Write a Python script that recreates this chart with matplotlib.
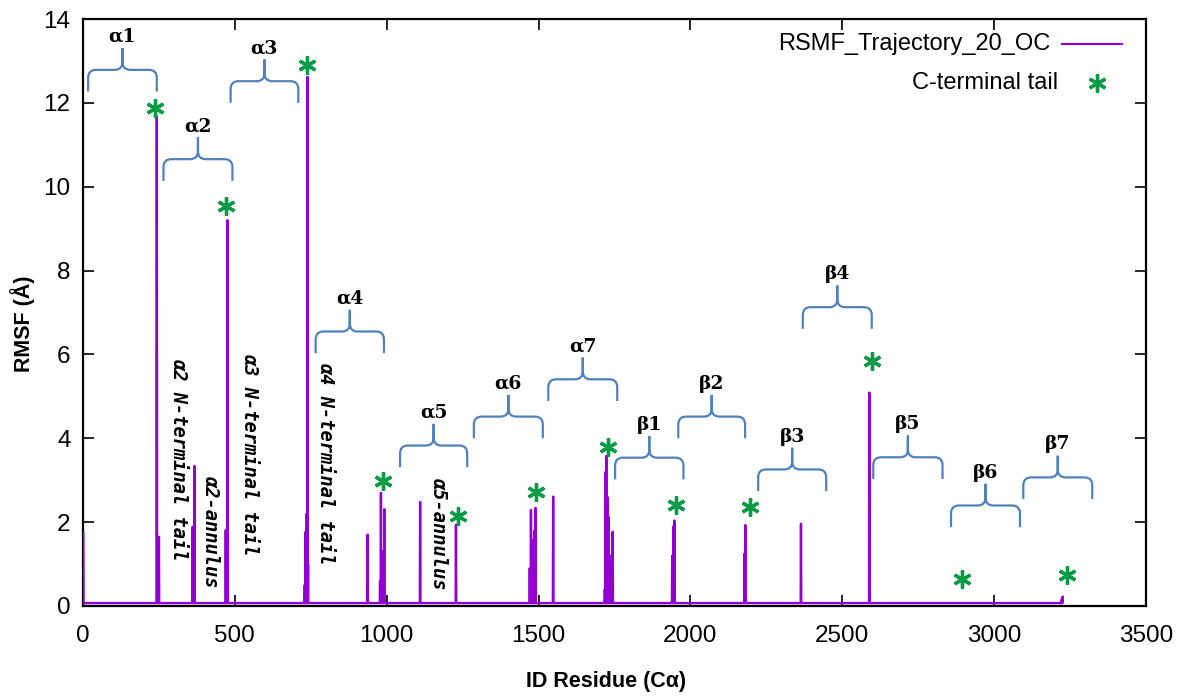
import numpy as np
import matplotlib
matplotlib.use("Agg")
import matplotlib.pyplot as plt
from matplotlib.path import Path
from matplotlib.patches import PathPatch

# ---------------- data ----------------
n_residues = 3226
baseline_rmsf = 0.07

# residues that rise above the baseline and their RMSF (Å)
peak_residue = [1, 243, 250, 361, 367, 470, 476, 730, 733, 736, 739, 741,
                937, 978, 981, 984, 988, 992, 1110, 1228,
                1471, 1475, 1478, 1483, 1487, 1490, 1548,
                1718, 1721, 1723, 1727, 1730, 1735, 1744,
                1940, 1944, 1947, 2178, 2181, 2364, 2589,
                3222, 3224, 3226]
peak_rmsf = [1.75, 11.67, 1.65, 1.89, 3.34, 1.81, 9.20, 0.50, 1.77, 2.20, 12.62, 1.00,
             1.70, 0.60, 2.70, 1.30, 1.30, 2.31, 2.48, 1.94,
             0.90, 2.29, 1.57, 1.30, 1.80, 2.34, 2.61,
             0.40, 3.20, 3.58, 2.60, 2.13, 1.20, 1.77,
             1.20, 1.90, 2.04, 1.25, 1.93, 1.96, 5.09,
             0.15, 0.20, 0.22]

# C-terminal tail markers
cterm_residue = [237, 471, 736, 989, 1234, 1490, 1727, 1953, 2195, 2598, 2894, 3239]
cterm_rmsf = [11.88, 9.53, 12.90, 2.97, 2.15, 2.73, 3.80, 2.41, 2.37, 5.85, 0.64, 0.74]

# secondary-structure braces: label, first residue, last residue, level (Å)
brace_labels = ["α1", "α2", "α3", "α4", "α5", "α6", "α7",
                "β1", "β2", "β3", "β4", "β5", "β6", "β7"]
brace_start = [17, 265, 486, 766, 1044, 1287, 1532,
               1752, 1960, 2223, 2370, 2602, 2858, 3096]
brace_end = [243, 492, 709, 991, 1265, 1514, 1759,
             1977, 2180, 2447, 2597, 2830, 3085, 3323]
brace_level = [12.27, 10.14, 12.00, 6.03, 3.31, 4.00, 4.89,
               3.02, 4.00, 2.74, 6.61, 3.03, 1.88, 2.55]

# vertical region notes: text, residue, top (Å)
note_texts = ["α2 N-terminal tail", "α2-annulus", "α3 N-terminal tail",
              "α4 N-terminal tail", "α5-annulus"]
note_residue = [316, 421, 547, 797, 1169]
note_top = [5.91, 3.12, 6.03, 5.82, 3.08]

x_ticks = [0, 500, 1000, 1500, 2000, 2500, 3000, 3500]
y_ticks = [0, 2, 4, 6, 8, 10, 12, 14]

# ---------------- build series ----------------
residue = np.arange(1, n_residues + 1)
rmsf = np.full(n_residues, baseline_rmsf)
rmsf[np.array(peak_residue) - 1] = peak_rmsf

# ---------------- style ----------------
line_color = "#9400d3"
star_color = "#0a9b47"
brace_color = "#4f81bd"
tick_font = ["Liberation Sans", "DejaVu Sans"]
star_style = dict(ls="none", marker=(6, 2, 0), ms=13, mew=2.4, color=star_color)

fig = plt.figure(figsize=(11.81, 6.96), dpi=100)
ax = fig.add_axes([83 / 1181, 1 - 606 / 696, 1063 / 1181, 587 / 696])

ax.plot(residue, rmsf, color=line_color, lw=1.7, zorder=3)
ax.plot(cterm_residue, cterm_rmsf, zorder=4, **star_style)

ax.set_xlim(0, 3500)
ax.set_ylim(0, 14)
ax.set_xticks(x_ticks)
ax.set_yticks(y_ticks)
ax.tick_params(direction="in", length=8, width=1.2, top=True, right=True)
ax.tick_params(axis="x", pad=14)
ax.tick_params(axis="y", pad=9)
for lab in ax.get_xticklabels() + ax.get_yticklabels():
    lab.set_family(tick_font)
    lab.set_fontsize(17.5)
for sp in ax.spines.values():
    sp.set_linewidth(1.6)

ax.set_xlabel("ID Residue (Cα)", fontsize=15.5, fontweight="bold",
              family=["Liberation Sans", "DejaVu Sans"])
ax.xaxis.set_label_coords(0.4916, -0.111)
ax.set_ylabel("RMSF (Å)", fontsize=15.5, fontweight="bold",
              family=["Liberation Sans", "DejaVu Sans"])
ax.yaxis.set_label_coords(-0.045, 0.48)

# ---------------- braces ----------------
arm = 0.517     # height of the brace ends (Å)
stem = 0.517    # height of the centre stem (Å)
rx = 26         # corner radius along x (residues)
ry = 0.19       # corner radius along y (Å)


def brace_path(x0, x1, yb):
    xm = 0.5 * (x0 + x1)
    yt = yb + arm
    verts, codes = [], []
    for xe, sgn in ((x0, 1), (x1, -1)):
        verts += [(xe, yb), (xe, yt - ry), (xe, yt), (xe + sgn * rx, yt),
                  (xm - sgn * rx, yt), (xm, yt), (xm, yt + ry), (xm, yt + stem)]
        codes += [Path.MOVETO, Path.LINETO, Path.CURVE3, Path.CURVE3,
                  Path.LINETO, Path.CURVE3, Path.CURVE3, Path.LINETO]
    return Path(verts, codes), xm, yt + stem


for lab, x0, x1, yb in zip(brace_labels, brace_start, brace_end, brace_level):
    p, xm, ytop = brace_path(x0, x1, yb)
    ax.add_patch(PathPatch(p, fill=False, edgecolor=brace_color, lw=1.6,
                           capstyle="butt", joinstyle="round", zorder=5))
    ax.annotate(lab, xy=(xm, ytop), xytext=(0, 4.5), textcoords="offset points",
                ha="center", va="baseline", fontsize=13.5, fontweight="bold",
                family=["DejaVu Serif"], zorder=6)

# ---------------- vertical notes ----------------
for t, x, yt in zip(note_texts, note_residue, note_top):
    ax.text(x, yt, t, rotation=-90, ha="center", va="top", fontsize=13.5,
            family=["DejaVu Sans Mono"], style="oblique", fontweight="bold",
            zorder=6)

# ---------------- key ----------------
key_font = ["Liberation Sans", "DejaVu Sans"]
ax.text(0.9097, 0.9574, "RSMF_Trajectory_20_OC", transform=ax.transAxes,
        ha="right", va="center", fontsize=17, family=key_font)
ax.plot([0.9207, 0.9771], [0.9574, 0.9574], transform=ax.transAxes,
        color=line_color, lw=1.5, clip_on=False)
ax.text(0.9172, 0.891, "C-terminal tail", transform=ax.transAxes,
        ha="right", va="center", fontsize=17, family=key_font)
ax.plot([0.9536], [0.891], transform=ax.transAxes, clip_on=False, **star_style)

fig.savefig("out.png", dpi=100)
